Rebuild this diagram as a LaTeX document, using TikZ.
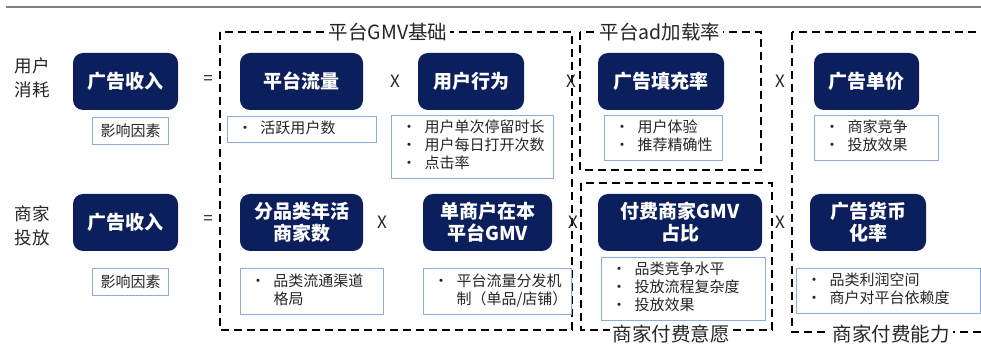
\documentclass[tikz,border=0pt]{standalone}
\usepackage{fontspec}
\setmainfont{Noto Sans CJK SC}
\definecolor{navy}{HTML}{0B1F5C}
\definecolor{bluebd}{HTML}{8FAADC}
\definecolor{topline}{HTML}{808080}
\definecolor{txt}{HTML}{262626}
\newcommand{\bl}[1]{\begin{tabular}{@{}p{23pt}@{}l@{}}#1\end{tabular}}
\begin{document}
\begin{tikzpicture}[x=1pt,y=-1pt,
  darkbox/.style={fill=navy, rounded corners=10pt, text=white, font=\fontsize{19}{22}\selectfont\bfseries, align=center, inner sep=0pt, minimum height=57pt},
  bbox/.style={draw=bluebd, line width=1pt, anchor=north west, inner ysep=0pt, inner xsep=10pt, font=\fontsize{15}{18}\selectfont, align=left, text=txt},
  fbox/.style={draw=bluebd, line width=1pt, anchor=north west, inner sep=0pt, font=\fontsize{15}{18}\selectfont, text=txt, minimum width=76pt, minimum height=27pt},
  dbox/.style={draw=black, dash pattern=on 8pt off 5pt, line width=1.3pt},
  lbl/.style={fill=white, font=\fontsize{19.5}{20}\selectfont, inner xsep=3pt, inner ysep=2pt, text=txt},
  blbl/.style={fill=white, font=\fontsize{19.5}{20}\selectfont, inner xsep=3pt, inner ysep=1pt, text=txt},
  op/.style={font=\fontsize{17}{17}\selectfont, text=txt, inner sep=0pt},
  side/.style={font=\fontsize{17.5}{24}\selectfont, align=center, text=txt}]
\useasboundingbox (0,0) rectangle (981,344);
\clip (0,0) rectangle (981,344);
\fill[white] (0,0) rectangle (981,344);
\draw[topline, line width=1.2pt] (6,7) -- (981,7);

% dashed groups
\draw[dbox] (220,32) rectangle (572,330);
\draw[dbox] (580,32) rectangle (761,170);
\draw[dbox] (581,183) rectangle (772,330);
\draw[dbox] (792,32) rectangle (1000,332);

% side labels
\node[side] (s1) at (32,78) {用户\\消耗};
\node[side] (s2) at (32,226) {商家\\投放};

% row 1 dark boxes
\node[darkbox, minimum width=105pt] (r1a) at (125.5,81.5) {广告收入};
\node[darkbox, minimum width=123pt] (r1b) at (301.5,81.5) {平台流量};
\node[darkbox, minimum width=106pt] (r1c) at (471,81.5) {用户行为};
\node[darkbox, minimum width=126pt] (r1d) at (661,81.5) {广告填充率};
\node[darkbox, minimum width=105pt] (r1e) at (866.5,81.5) {广告单价};

% row 2 dark boxes
\node[darkbox, minimum width=105pt] (r2a) at (125.5,222.5) {广告收入};
\node[darkbox, minimum width=123pt] (r2b) at (301.5,222.5) {分品类年活\\商家数};
\node[darkbox, minimum width=129pt] (r2c) at (487.5,222.5) {单商户在本\\平台GMV};
\node[darkbox, minimum width=164pt] (r2d) at (680,222.5) {付费商家GMV\\占比};
\node[darkbox, minimum width=116pt] (r2e) at (868,222.5) {广告货币\\化率};

% operators row 1
\node[op] (o11) at (208,80) {=};
\node[op] (o12) at (395,81) {X};
\node[op] (o13) at (571,81) {X};
\node[op] (o14) at (780,81) {X};
% operators row 2
\node[op] (o21) at (208,220) {=};
\node[op] (o22) at (382,222) {X};
\node[op] (o23) at (573,222) {X};
\node[op] (o24) at (780,222) {X};

% factor boxes
\node[fbox] (f1) at (92,117) {影响因素};
\node[fbox] (f2) at (92,268) {影响因素};

% bullet boxes row 1
\node[bbox, text width=129pt, minimum height=26pt] (b1b) at (227,116) {\bl{• & 活跃用户数}};
\node[bbox, text width=142pt, minimum height=63pt] (b1c) at (391,115) {\bl{• & 用户单次停留时长\\• & 用户每日打开次数\\• & 点击率}};
\node[bbox, text width=98pt, minimum height=45pt] (b1d) at (604,115) {\bl{• & 用户体验\\• & 推荐精确性}};
\node[bbox, text width=104pt, minimum height=45pt] (b1e) at (814,115) {\bl{• & 商家竞争\\• & 投放效果}};

% bullet boxes row 2
\node[bbox, text width=123pt, minimum height=46pt] (b2b) at (240,268) {\bl{• & 品类流通渠道\\ & 格局}};
\node[bbox, text width=128pt, minimum height=46pt] (b2c) at (423,268) {\bl{• & 平台流量分发机\\ & 制（单品/店铺）}};
\node[bbox, text width=144pt, minimum height=63pt] (b2d) at (601,257) {\bl{• & 品类竞争水平\\• & 投放流程复杂度\\• & 投放效果}};
\node[bbox, text width=164pt, minimum height=45pt] (b2e) at (796,268) {\bl{• & 品类利润空间\\• & 商户对平台依赖度}};

% group labels
\node[lbl] (g1) at (388,32) {平台GMV基础};
\node[lbl] (g2) at (660,32) {平台ad加载率};
\node[blbl] (g3) at (671,334) {商家付费意愿};
\node[blbl] (g4) at (891,334) {商家付费能力};
\end{tikzpicture}
\end{document}
